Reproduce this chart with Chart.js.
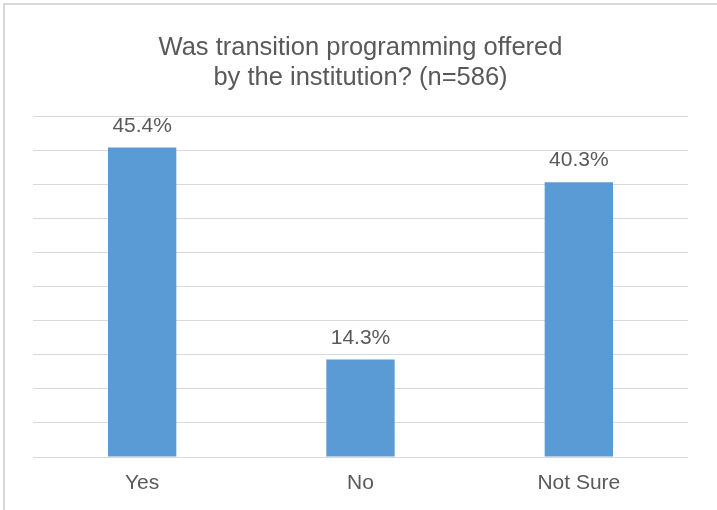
<!DOCTYPE html>
<html>
<head>
<meta charset="utf-8">
<script src="https://cdn.jsdelivr.net/npm/chart.js@4"></script>
<style>
  html, body { margin: 0; padding: 0; background: #ffffff; overflow: hidden; }
  #wrap { position: relative; width: 717px; height: 510px; }
  #frame { position: absolute; left: 3px; top: 3px; width: 760px; height: 560px;
           border: 2px solid #d9d9d9; box-sizing: border-box; pointer-events: none; }
</style>
</head>
<body>
<div id="wrap">
  <canvas id="transitionChart" width="717" height="510"></canvas>
  <div id="frame"></div>
</div>
<script>
// chart data
const categories = ['Yes', 'No', 'Not Sure'];
const percentValues = [45.4, 14.3, 40.3];
const titleLines = ['Was transition programming offered', 'by the institution? (n=586)'];

const textColor = '#595959';
const fontFamily = '"Liberation Sans", Arial, sans-serif';

// value labels above bars
const barLabels = {
  id: 'barLabels',
  afterDatasetsDraw(chart) {
    const ctx = chart.ctx;
    const meta = chart.getDatasetMeta(0);
    ctx.save();
    ctx.fillStyle = textColor;
    ctx.font = '21px ' + fontFamily;
    ctx.textAlign = 'center';
    ctx.textBaseline = 'alphabetic';
    meta.data.forEach(function(bar, i) {
      ctx.fillText(percentValues[i].toFixed(1) + '%', bar.x, bar.y - 16);
    });
    ctx.restore();
  }
};

const chartCtx = document.getElementById('transitionChart').getContext('2d');
new Chart(chartCtx, {
  type: 'bar',
  data: {
    labels: categories,
    datasets: [
      {
        data: percentValues,
        backgroundColor: '#5b9bd5',
        borderWidth: 0,
        categoryPercentage: 1,
        barPercentage: 0.313,
      }
    ]
  },
  options: {
    responsive: false,
    animation: false,
    layout: {
      padding: { left: 33, right: 29, top: 0, bottom: 0 }
    },
    plugins: {
      legend: { display: false },
      tooltip: { enabled: false },
      title: {
        display: true,
        text: titleLines,
        color: textColor,
        font: { family: fontFamily, size: 25.5, weight: 'normal', lineHeight: 1.18 },
        padding: { top: 33, bottom: 23 }
      }
    },
    scales: {
      y: {
        min: 0,
        max: 50,
        ticks: { display: false, stepSize: 5 },
        border: { display: false },
        grid: { color: '#d9d9d9', lineWidth: 1, drawTicks: false },
        afterFit: function(scale) { scale.width = 0; }
      },
      x: {
        border: { display: false },
        grid: { display: false, drawTicks: false },
        ticks: {
          color: textColor,
          padding: 14,
          font: { family: fontFamily, size: 21 }
        },
        afterFit: function(scale) { scale.height = 53; }
      }
    }
  },
  plugins: [barLabels]
});
</script>
</body>
</html>
